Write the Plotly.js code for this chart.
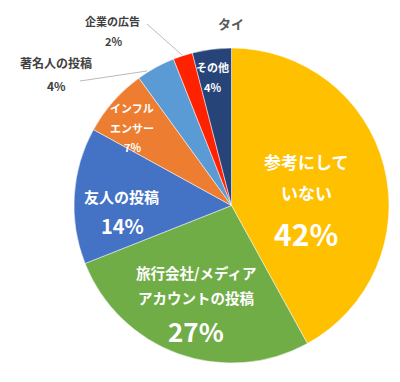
<!DOCTYPE html>
<html>
<head>
<meta charset="utf-8">
<script src="https://cdn.plot.ly/plotly-3.0.1.min.js"></script>
<style>html,body{margin:0;padding:0;background:#fff;}#chart{width:400px;height:382px;}</style>
</head>
<body>
<div id="chart"></div>
<script>
// Data
const categories = ["参考にしていない", "旅行会社/メディアアカウントの投稿", "友人の投稿", "インフルエンサー", "著名人の投稿", "企業の広告", "その他"];
const values = [42, 27, 14, 7, 4, 2, 4];
const colors = ["#FFC000", "#70AD47", "#4472C4", "#ED7D31", "#5B9BD5", "#FF2200", "#264478"];
const titleText = "タイ";

// Label layout (display lines for each category, pixel positions)
const labelLines = [["参考にして", "いない"], ["旅行会社/メディア", "アカウントの投稿"], ["友人の投稿"], ["インフル", "エンサー"], ["著名人の投稿"], ["企業の広告"], ["その他"]];
const labelPos = [
  {x: 306, ys: [162, 192], px: 306, py: 233, fs: 17, ps: 30, c: "#fff"},
  {x: 196, ys: [272, 297], px: 196, py: 330, fs: 14.5, ps: 26, c: "#fff"},
  {x: 121, ys: [197], px: 122, py: 225, fs: 15, ps: 20, c: "#fff"},
  {x: 132, ys: [108, 128], px: 132, py: 147, fs: 11, ps: 11, c: "#fff"},
  {x: 56, ys: [63], px: 57, py: 85, fs: 12, ps: 12, c: "#404040"},
  {x: 113, ys: [21], px: 114, py: 41, fs: 11, ps: 11, c: "#404040"},
  {x: 212, ys: [67], px: 212, py: 87, fs: 11, ps: 11, c: "#fff"}
];
const W = 400, H = 382;
const fx = x => x / W, fy = y => 1 - y / H;

const annotations = [];
categories.forEach((c, i) => {
  const p = labelPos[i];
  labelLines[i].forEach((t, k) => {
    annotations.push({xref: "paper", yref: "paper", x: fx(p.x), y: fy(p.ys[k]), text: "<b>" + t + "</b>", showarrow: false,
      xanchor: "center", yanchor: "middle", font: {family: "Noto Sans CJK JP", size: p.fs, color: p.c}});
  });
  annotations.push({xref: "paper", yref: "paper", x: fx(p.px), y: fy(p.py), text: "<b>" + values[i] + "%</b>", showarrow: false,
    xanchor: "center", yanchor: "middle", font: {family: "Noto Sans CJK JP", size: p.ps, color: p.c}});
});
annotations.push({xref: "paper", yref: "paper", x: fx(231), y: fy(24), text: "<b>" + titleText + "</b>", showarrow: false,
  xanchor: "center", yanchor: "middle", font: {family: "Noto Sans CJK JP", size: 13, color: "#595959"}});

const shapes = [
  {type: "line", xref: "paper", yref: "paper", x0: fx(147), y0: fy(24), x1: fx(182), y1: fy(55), line: {color: "#bbb", width: 1}},
  {type: "line", xref: "paper", yref: "paper", x0: fx(80), y0: fy(81), x1: fx(147), y1: fy(71), line: {color: "#bbb", width: 1}}
];

const trace = {
  type: "pie",
  labels: categories,
  values: values,
  sort: false,
  direction: "clockwise",
  rotation: 0,
  textinfo: "none",
  hoverinfo: "label+percent",
  marker: {colors: colors, line: {color: "#fff", width: 0.5}},
  domain: {x: [74 / W, 389 / W], y: [19 / H, 334 / H]}
};

Plotly.newPlot("chart", [trace], {
  width: W, height: H,
  margin: {l: 0, r: 0, t: 0, b: 0},
  showlegend: false,
  paper_bgcolor: "#fff",
  annotations: annotations,
  shapes: shapes
}, {displayModeBar: false, staticPlot: true});
</script>
</body>
</html>
